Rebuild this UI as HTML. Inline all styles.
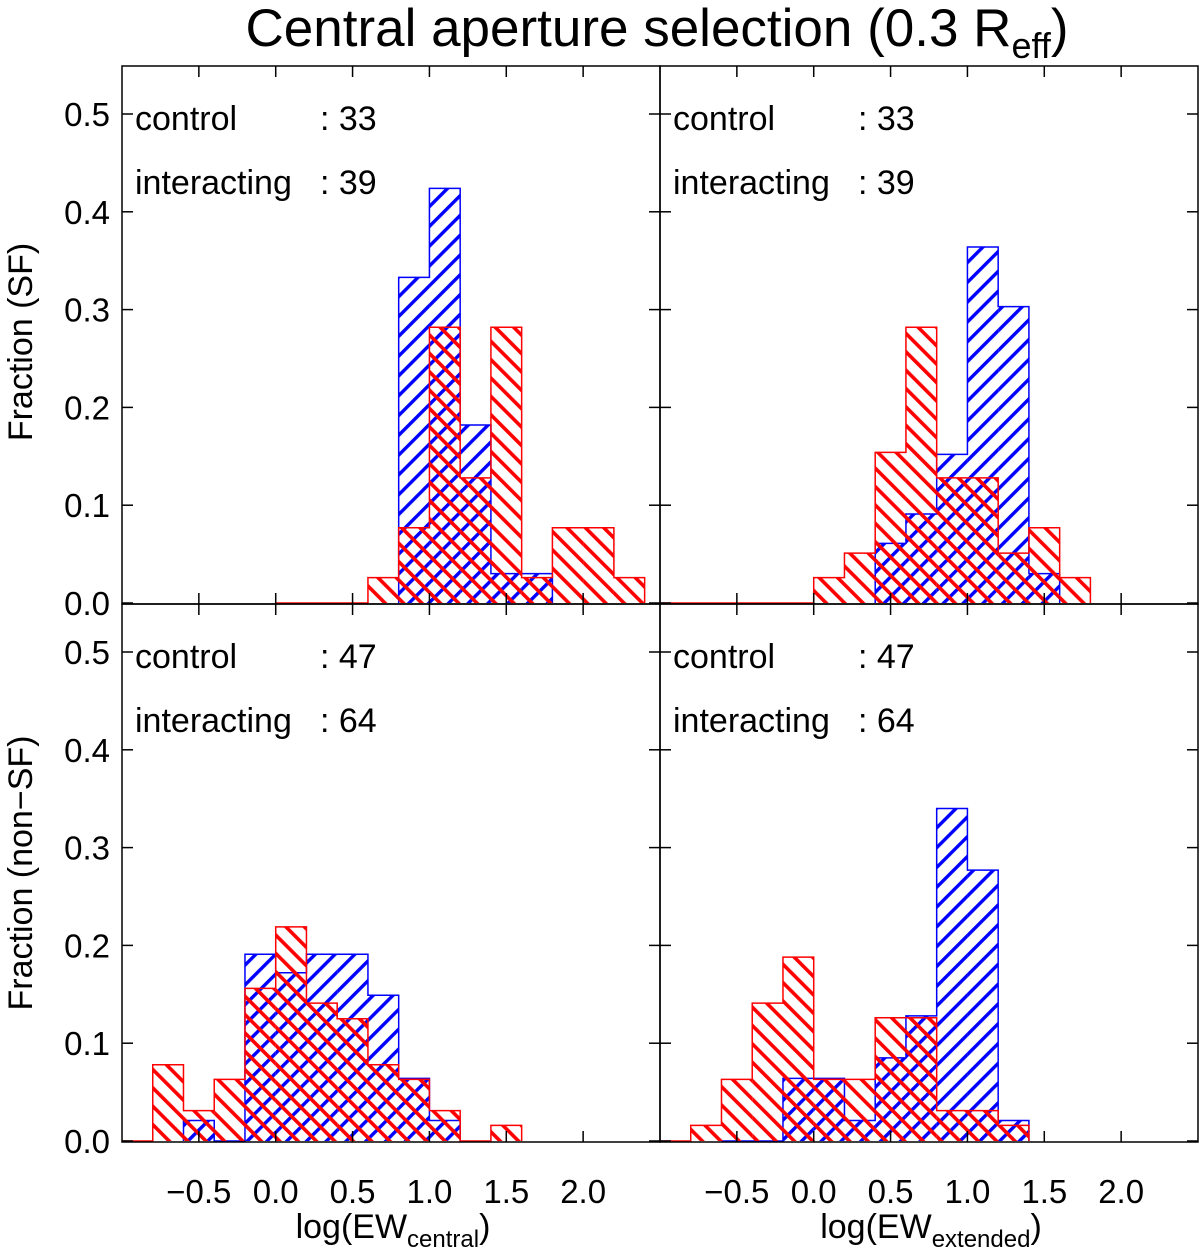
<!DOCTYPE html>
<html><head><meta charset="utf-8"><style>
body{margin:0;background:#fff;}
svg text{font-family:"Liberation Sans",sans-serif;fill:#000;}
</style></head><body>
<svg id="chart" width="1200" height="1254" viewBox="0 0 1200 1254" xmlns="http://www.w3.org/2000/svg">
<defs>
<pattern id="hatchBlue" patternUnits="userSpaceOnUse" width="14" height="14" patternTransform="rotate(45)">
<rect x="0" y="0" width="3.4" height="14" fill="#0000ff"/></pattern>
<pattern id="hatchRed" patternUnits="userSpaceOnUse" width="13" height="13" patternTransform="rotate(-45)">
<rect x="0" y="0" width="3.6" height="13" fill="#ff0000"/></pattern>
</defs>
<text x="657" y="46" font-size="53" text-anchor="middle">Central aperture selection (0.3 R<tspan font-size="36" dy="12">eff</tspan><tspan dy="-12">)</tspan></text>
<g id="plots"></g>
</svg>
<script>
// bin left edges start (log EW), width 0.2
const binWidth = 0.2;
const tlStartBlue = 0.8;
const tlBlue = [0.333, 0.424, 0.182, 0.030, 0.030];
const tlStartRed = 0.0;
const tlRed = [0, 0, 0, 0.026, 0.077, 0.282, 0.128, 0.282, 0.026, 0.077, 0.077, 0.026];
const trStartBlue = 0.4;
const trBlue = [0.061, 0.091, 0.152, 0.364, 0.303, 0.030];
const trStartRed = -1.0;
const trRed = [0, 0, 0, 0, 0, 0.026, 0.051, 0.154, 0.282, 0.128, 0.128, 0.051, 0.077, 0.026];
const blStartBlue = -0.6;
const blBlue = [0.021, 0, 0.191, 0.172, 0.191, 0.191, 0.149, 0.064, 0.021];
const blStartRed = -1.0;
const blRed = [0, 0.078, 0.031, 0.063, 0.156, 0.219, 0.141, 0.125, 0.078, 0.063, 0.031, 0, 0.016];
const brStartBlue = -0.6;
const brBlue = [0, 0, 0.064, 0.064, 0.021, 0.085, 0.128, 0.340, 0.277, 0.021];
const brStartRed = -1.0;
const brRed = [0, 0.016, 0.063, 0.141, 0.188, 0.063, 0.063, 0.126, 0.126, 0.031, 0.031, 0.016];
const yTicks = [0.0, 0.1, 0.2, 0.3, 0.4, 0.5];
const yTickLabels = ["0.0", "0.1", "0.2", "0.3", "0.4", "0.5"];
const xTicks = [-0.5, 0.0, 0.5, 1.0, 1.5, 2.0];
const xTickLabels = ["\u22120.5", "0.0", "0.5", "1.0", "1.5", "2.0"];
const topCounts = ["33", "39"];
const bottomCounts = ["47", "64"];

const NS = "http://www.w3.org/2000/svg";
const root = document.getElementById("plots");
function mk(tag, attrs, parent) {
  const e = document.createElementNS(NS, tag);
  for (const k in attrs) e.setAttribute(k, attrs[k]);
  (parent || root).appendChild(e);
  return e;
}
const PW = 538, PH = 538;
function panel(name, px, py, start1, blue, start2, red, counts, showY, showX, xtitle, sub) {
  const g = mk("g", {});
  
  
  const xs = v => px + (v + 1.0) / 3.5 * PW;
  const ys = v => py + PH - 1 - v * 978;
  function hist(start, vals, fill, stroke, nm) {
    let d = "M" + xs(start) + "," + ys(0);
    vals.forEach((v, i) => {
      const x0 = xs(start + i * binWidth), x1 = xs(start + (i + 1) * binWidth);
      if (v > 0) {
        const r = mk("rect", {x: x0, y: ys(v), width: x1 - x0, height: ys(0) - ys(v), fill: fill}, g);
        
        
      }
      d += " L" + x0 + "," + ys(v) + " L" + x1 + "," + ys(v);
    });
    d += " L" + xs(start + vals.length * binWidth) + "," + ys(0);
    const p = mk("path", {d: d, fill: "none", stroke: stroke, "stroke-width": 1.5}, g);
    
    
  }
  hist(start1, blue, "url(#hatchBlue)", "#0000ff", "control");
  hist(start2, red, "url(#hatchRed)", "#ff0000", "interacting");
  const fr = mk("rect", {x: px, y: py, width: PW, height: PH, fill: "none", stroke: "#000", "stroke-width": 1.5}, g);
  
  
  yTicks.forEach((t, i) => {
    mk("line", {x1: px, x2: px + 11, y1: ys(t), y2: ys(t), stroke: "#000", "stroke-width": 1.5}, g);
    mk("line", {x1: px + PW - 11, x2: px + PW, y1: ys(t), y2: ys(t), stroke: "#000", "stroke-width": 1.5}, g);
    if (showY) {
      const tx = mk("text", {x: 110, y: ys(t) + 12, "font-size": 33, "text-anchor": "end"}, g);
      tx.textContent = yTickLabels[i];
      
      
    }
  });
  xTicks.forEach((t, i) => {
    mk("line", {x1: xs(t), x2: xs(t), y1: py + PH, y2: py + PH - 11, stroke: "#000", "stroke-width": 1.5}, g);
    mk("line", {x1: xs(t), x2: xs(t), y1: py, y2: py + 11, stroke: "#000", "stroke-width": 1.5}, g);
    if (showX) {
      const tx = mk("text", {x: xs(t), y: py + PH + 61, "font-size": 33, "text-anchor": "middle"}, g);
      tx.textContent = xTickLabels[i];
      
      
    }
  });
  const labels = ["control", "interacting"];
  labels.forEach((l, i) => {
    const y = py + 64 + i * 64;
    const a = mk("text", {x: px + 13, y: y, "font-size": 34}, g);
    a.textContent = l;
    
    
    const b = mk("text", {x: px + 198, y: y, "font-size": 34}, g);
    b.textContent = ": " + counts[i];
    
    
  });
  if (xtitle) {
    const tx = mk("text", {x: px + PW / 2 + 2, y: 1238, "font-size": 34, "text-anchor": "middle"}, g);
    
    
    tx.innerHTML = "log(EW<tspan font-size='24' dy='9'>" + sub + "</tspan><tspan dy='-9'>)</tspan>";
  }
}
panel("panel-sf-central", 122, 66, tlStartBlue, tlBlue, tlStartRed, tlRed, topCounts, true, false, false);
panel("panel-sf-extended", 660, 66, trStartBlue, trBlue, trStartRed, trRed, topCounts, false, false, false);
panel("panel-nonsf-central", 122, 604, blStartBlue, blBlue, blStartRed, blRed, bottomCounts, true, true, true, "central");
panel("panel-nonsf-extended", 660, 604, brStartBlue, brBlue, brStartRed, brRed, bottomCounts, false, true, true, "extended");
function ytitle(txt, cy, nm) {
  const t = mk("text", {x: 0, y: 0, "font-size": 34, "text-anchor": "middle", transform: "translate(32," + cy + ") rotate(-90)"});
  t.textContent = txt;
  
  
}
ytitle("Fraction (SF)", 342, "y-axis-title-sf");
ytitle("Fraction (non\u2212SF)", 873, "y-axis-title-nonsf");
</script>
</body></html>
